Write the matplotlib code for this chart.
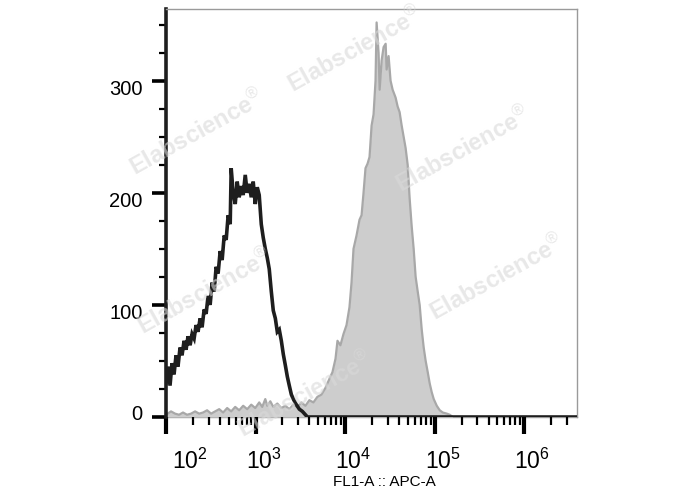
import numpy as np
import matplotlib
matplotlib.use("Agg")
from matplotlib import pyplot as plt
from matplotlib.transforms import ScaledTranslation
from matplotlib.ticker import FixedLocator, LogLocator, NullFormatter

plt.rcParams['font.family'] = ['Liberation Sans', 'DejaVu Sans']
plt.rcParams['mathtext.fontset'] = 'custom'
plt.rcParams['mathtext.rm'] = 'Liberation Sans'

# control (black outline), intensity in decades (log10) and counts
black_log = [2.000, 2.022, 2.045, 2.067, 2.090, 2.112, 2.134, 2.157, 2.179, 2.202,
             2.224, 2.246, 2.269, 2.291, 2.314, 2.336, 2.358, 2.381, 2.403, 2.426,
             2.448, 2.470, 2.493, 2.515, 2.538, 2.560, 2.582, 2.605, 2.627, 2.650,
             2.672, 2.694, 2.717, 2.728, 2.750, 2.773, 2.795, 2.817, 2.840, 2.862,
             2.885, 2.907, 2.929, 2.952, 2.974, 2.997, 3.019, 3.041, 3.064, 3.086,
             3.109, 3.131, 3.153, 3.176, 3.198, 3.221, 3.243, 3.265, 3.288, 3.310,
             3.333, 3.355, 3.377, 3.400, 3.422, 3.456, 3.489, 3.523, 3.557, 3.579,
             6.700]
black_cnt = [30, 45, 28, 48, 38, 55, 45, 62, 55, 68,
             60, 72, 64, 74, 70, 82, 76, 88, 80, 96,
             92, 108, 100, 120, 112, 134, 128, 148, 140, 162,
             158, 180, 172, 222, 200, 190, 210, 196, 206, 198,
             216, 200, 208, 196, 210, 190, 205, 198, 172, 160,
             150, 142, 132, 112, 95, 88, 76, 78, 68, 56,
             46, 36, 28, 20, 16, 11, 7, 5, 2, 0,
             0]

# stained sample (grey filled)
grey_log = [2.000, 2.056, 2.101, 2.146, 2.190, 2.235, 2.280, 2.325, 2.370, 2.414,
            2.459, 2.504, 2.549, 2.594, 2.638, 2.683, 2.728, 2.773, 2.817, 2.862,
            2.907, 2.952, 2.997, 3.041, 3.075, 3.109, 3.131, 3.165, 3.198, 3.243,
            3.288, 3.333, 3.377, 3.422, 3.467, 3.512, 3.557, 3.601, 3.646, 3.691,
            3.736, 3.781, 3.825, 3.859, 3.893, 3.915, 3.948, 3.982, 4.016, 4.049,
            4.072, 4.094, 4.128, 4.161, 4.184, 4.206, 4.228, 4.251, 4.273, 4.296,
            4.318, 4.340, 4.352, 4.374, 4.386, 4.408, 4.430, 4.453, 4.464, 4.486,
            4.508, 4.531, 4.564, 4.587, 4.609, 4.632, 4.654, 4.676, 4.699, 4.721,
            4.744, 4.766, 4.788, 4.811, 4.833, 4.856, 4.878, 4.900, 4.923, 4.945,
            4.968, 4.990, 5.024, 5.057, 5.091, 5.136, 5.169, 5.203]
grey_cnt = [2, 5, 3, 2, 4, 2, 3, 5, 3, 4,
            6, 3, 5, 7, 4, 8, 5, 9, 6, 10,
            7, 11, 8, 13, 9, 16, 10, 14, 9, 12,
            8, 10, 7, 11, 9, 13, 10, 15, 13, 18,
            20, 26, 34, 40, 52, 68, 64, 74, 82, 98,
            120, 150, 162, 176, 180, 200, 222, 226, 232, 260,
            270, 300, 352, 325, 292, 318, 330, 333, 310, 322,
            300, 292, 285, 277, 272, 260, 250, 240, 225, 195,
            170, 150, 125, 112, 100, 78, 62, 50, 40, 30,
            22, 16, 10, 6, 4, 3, 2, 0]

y_ticks = [0, 100, 200, 300]
x_ticks = [1e2, 1e3, 1e4, 1e5, 1e6]
x_labels = [r'$\mathregular{10^{2}}$', r'$\mathregular{10^{3}}$', r'$\mathregular{10^{4}}$',
            r'$\mathregular{10^{5}}$', r'$\mathregular{10^{6}}$']
x_title = "FL1-A :: APC-A"
mark = "Elabscience"

W, H = 688, 490
fig = plt.figure(figsize=(W / 100, H / 100), dpi=100)
ax = fig.add_axes([166 / W, 1 - 417 / H, (577 - 166) / W, (417 - 9) / H])

gx = 10 ** np.asarray(grey_log)
bx = 10 ** np.asarray(black_log)
ax.fill_between(gx, 0, grey_cnt, color="#cdcdcd", lw=0, zorder=1)
ax.plot(gx, grey_cnt, color="#a8a8a8", lw=1.6, zorder=2)
ax.plot(bx, black_cnt, color="#1e1e1e", lw=2.6, zorder=3, solid_joinstyle="miter")

ax.set_xscale("log")
ax.set_xlim(100, 10 ** 6.59)
ax.set_ylim(0, 364)

ax.xaxis.set_major_locator(FixedLocator(x_ticks))
ax.set_xticklabels(x_labels)
ax.xaxis.set_minor_locator(LogLocator(base=10, subs=np.arange(2, 10), numticks=20))
ax.xaxis.set_minor_formatter(NullFormatter())
ax.set_yticks(y_ticks)
ax.set_yticks(np.arange(25, 364, 25), minor=True)

ax.tick_params(axis="x", which="major", direction="out", length=12, width=3, pad=11, labelsize=16.5)
ax.tick_params(axis="x", which="minor", direction="out", length=6, width=1.6)
ax.tick_params(axis="y", which="major", direction="out", length=10, width=2.6, pad=7, labelsize=14.5)
ax.tick_params(axis="y", which="minor", direction="out", length=5, width=1.6)

for i, lab in enumerate(ax.get_xticklabels()):
    dx = 24 if i == 0 else 8
    lab.set_transform(lab.get_transform() + ScaledTranslation(dx / 100, 0, fig.dpi_scale_trans))
for i, lab in enumerate(ax.get_yticklabels()):
    dy = 5 if i == 0 else -7
    lab.set_transform(lab.get_transform() + ScaledTranslation(0, dy / 100, fig.dpi_scale_trans))

ax.spines["left"].set_linewidth(2.6)
ax.spines["left"].set_color("#1e1e1e")
for s in ["top", "right", "bottom"]:
    ax.spines[s].set_linewidth(1.0)
    ax.spines[s].set_color("#9a9a9a")
ax.spines["bottom"].set_zorder(0)

fig.text(384 / W, 1 - 489 / H, x_title, ha="center", va="bottom", fontsize=11)

# watermarks
for cx, cy in [(197, 133), (355, 50), (463, 150), (497, 278), (205, 292), (305, 395)]:
    fig.text(cx / W, 1 - cy / H, mark + r"$^{\circledR}$", ha="center", va="center", rotation=29,
             fontsize=17, fontweight="bold", color="#d9d9d9", alpha=0.6, zorder=10)

fig.savefig("out.png", dpi=100)
